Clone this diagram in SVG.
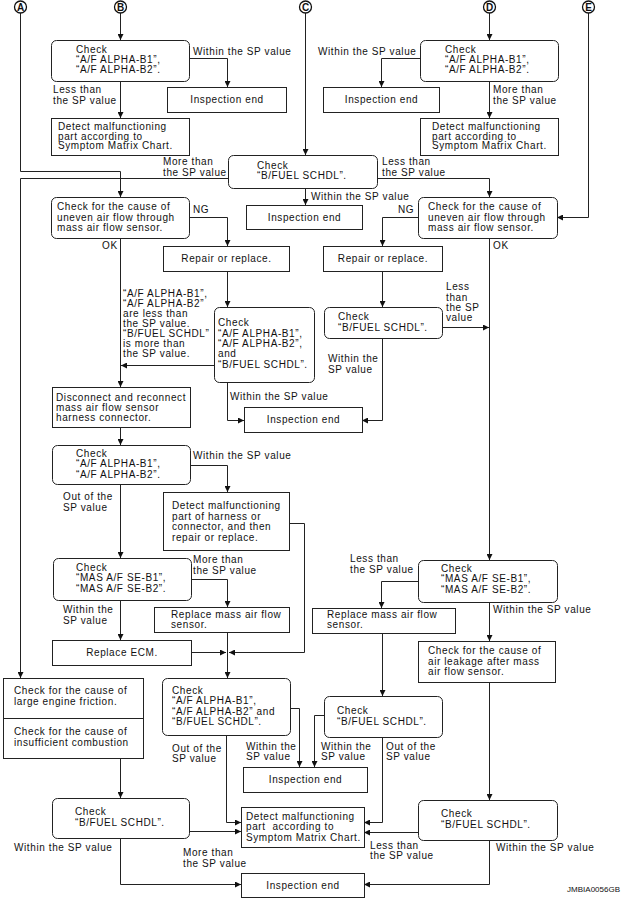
<svg xmlns="http://www.w3.org/2000/svg" width="622" height="903" viewBox="0 0 622 903">
<style>
.b{fill:#fff;stroke:#222;stroke-width:1}
.l{fill:none;stroke:#222;stroke-width:1}
.t{font-family:"Liberation Sans",Arial,sans-serif;font-size:10px;fill:#111;letter-spacing:0.6px}
.c{text-anchor:middle}
.k{fill:#fff;stroke:#111;stroke-width:1.3}
.kt{font-family:"Liberation Sans",Arial,sans-serif;font-size:10px;font-weight:bold;fill:#111;text-anchor:middle}
.id{font-family:"Liberation Sans",Arial,sans-serif;font-size:8px;fill:#111}
</style>
<defs>
<marker id="ar" viewBox="0 0 6 6" refX="6" refY="3" markerWidth="6" markerHeight="6" orient="auto" markerUnits="userSpaceOnUse"><path d="M0,0L6,3L0,6z" fill="#111"/></marker>
</defs>

<g id="connectors" class="l" marker-end="url(#ar)">
<path d="M20.5,13 V171.5 H120.5 V197"/>
<path d="M120.5,13 V40"/>
<path d="M189,58.5 H227.5 V87"/>
<path d="M120.5,81 V118"/>
<path d="M305.5,13 V155"/>
<path d="M489.5,13 V40"/>
<path d="M420,58.5 H381.5 V87"/>
<path d="M489.5,81 V118"/>
<path d="M228,178.5 H20.5 V678"/>
<path d="M377,178.5 H489.5 V197"/>
<path d="M305.5,188 V205"/>
<path d="M588.5,13 V217.5 H557"/>
<path d="M189,217.5 H227.5 V246"/>
<path d="M418,217.5 H382.5 V246"/>
<path d="M120.5,238 V387"/>
<path d="M227.5,271 V307"/>
<path d="M214,365.5 H121"/>
<path d="M227.5,382 V420.5 H244"/>
<path d="M382.5,271 V307"/>
<path d="M382.5,338 V420.5 H362"/>
<path d="M442,327.5 H489"/>
<path d="M489.5,238 V560"/>
<path d="M120.5,427 V445"/>
<path d="M190,465.5 H227.5 V492"/>
<path d="M120.5,484 V558"/>
<path d="M289,523.5 H304.5 V652.5 H229"/>
<path d="M191,579.5 H227.5 V607"/>
<path d="M120.5,600 V640"/>
<path d="M191,652.5 H226"/>
<path d="M227.5,632 V678"/>
<path d="M418,581.5 H381.5 V608"/>
<path d="M489.5,602 V641"/>
<path d="M382.5,633 V696"/>
<path d="M489.5,682 V800"/>
<path d="M120.5,758 V798"/>
<path d="M226.5,735 V822.5 H241"/>
<path d="M290,708.5 H299.5 V767"/>
<path d="M324,715.5 H314.5 V767"/>
<path d="M382.5,737 V822.5 H364"/>
<path d="M189,831.5 H241"/>
<path d="M418,832.5 H364"/>
<path d="M120.5,838 V884.5 H241"/>
<path d="M489.5,840 V884.5 H364"/>
</g>

<g id="labels" class="t">
<text x="193" y="55">Within the SP value</text>
<text x="53" y="93">Less than</text><text x="53" y="104">the SP value</text>
<text x="318" y="55">Within the SP value</text>
<text x="493" y="93">More than</text><text x="493" y="104">the SP value</text>
<text x="163" y="165">More than</text><text x="163" y="176">the SP value</text>
<text x="382" y="165">Less than</text><text x="382" y="176">the SP value</text>
<text x="311" y="200">Within the SP value</text>
<text x="193" y="213">NG</text>
<text x="398" y="213">NG</text>
<text x="102" y="249">OK</text>
<text x="493" y="249">OK</text>
<text x="123" y="297">“A/F ALPHA-B1”,</text>
<text x="123" y="307">“A/F ALPHA-B2”</text>
<text x="123" y="317">are less than</text>
<text x="123" y="327">the SP value.</text>
<text x="123" y="337">“B/FUEL SCHDL”</text>
<text x="123" y="347">is more than</text>
<text x="123" y="357">the SP value.</text>
<text x="230" y="400">Within the SP value</text>
<text x="446" y="290">Less</text><text x="446" y="300.5">than</text><text x="446" y="311">the SP</text><text x="446" y="321">value</text>
<text x="328" y="362">Within the</text><text x="328" y="373">SP value</text>
<text x="193" y="459">Within the SP value</text>
<text x="63" y="500">Out of the</text><text x="63" y="511">SP value</text>
<text x="193" y="563">More than</text><text x="193" y="574">the SP value</text>
<text x="63" y="613">Within the</text><text x="63" y="624">SP value</text>
<text x="350" y="562">Less than</text><text x="350" y="573">the SP value</text>
<text x="493" y="613">Within the SP value</text>
<text x="172" y="752">Out of the</text><text x="172" y="762">SP value</text>
<text x="246" y="750">Within the</text><text x="246" y="760">SP value</text>
<text x="321" y="750">Within the</text><text x="321" y="760">SP value</text>
<text x="386" y="750">Out of the</text><text x="386" y="760">SP value</text>
<text x="14" y="851">Within the SP value</text>
<text x="183" y="856">More than</text><text x="183" y="867">the SP value</text>
<text x="370" y="849">Less than</text><text x="370" y="859">the SP value</text>
<text x="496" y="851">Within the SP value</text>
</g>

<g id="start-A"><circle class="k" cx="20.5" cy="7" r="6"/><text class="kt" x="20.5" y="10.5">A</text></g>
<g id="start-B"><circle class="k" cx="120.5" cy="7" r="6"/><text class="kt" x="120.5" y="10.5">B</text></g>
<g id="start-C"><circle class="k" cx="305.5" cy="7" r="6"/><text class="kt" x="305.5" y="10.5">C</text></g>
<g id="start-D"><circle class="k" cx="489.5" cy="7" r="6"/><text class="kt" x="489.5" y="10.5">D</text></g>
<g id="start-E"><circle class="k" cx="588.5" cy="7" r="6"/><text class="kt" x="588.5" y="10.5">E</text></g>

<g id="b-check"><rect class="b" x="51.5" y="40.5" width="138" height="41" rx="5"/>
<text class="t" x="76" y="53">Check</text><text class="t" x="76" y="63">“A/F ALPHA-B1”,</text><text class="t" x="76" y="73">“A/F ALPHA-B2”.</text></g>
<g id="b-end"><rect class="b" x="167.5" y="87.5" width="119" height="25"/><text class="t c" x="227" y="103">Inspection end</text></g>
<g id="b-detect"><rect class="b" x="51.5" y="118.5" width="138" height="37"/>
<text class="t" x="58" y="130">Detect malfunctioning</text><text class="t" x="58" y="139.5">part according to</text><text class="t" x="58" y="149">Symptom Matrix Chart.</text></g>

<g id="d-check"><rect class="b" x="420.5" y="40.5" width="138" height="41" rx="5"/>
<text class="t" x="445" y="53">Check</text><text class="t" x="445" y="63">“A/F ALPHA-B1”,</text><text class="t" x="445" y="73">“A/F ALPHA-B2”.</text></g>
<g id="d-end"><rect class="b" x="323.5" y="87.5" width="116" height="25"/><text class="t c" x="381.5" y="103">Inspection end</text></g>
<g id="d-detect"><rect class="b" x="420.5" y="118.5" width="138" height="37"/>
<text class="t" x="432" y="130">Detect malfunctioning</text><text class="t" x="432" y="139.5">part according to</text><text class="t" x="432" y="149">Symptom Matrix Chart.</text></g>

<g id="c-check"><rect class="b" x="228.5" y="155.5" width="149" height="33" rx="5"/>
<text class="t" x="257" y="169">Check</text><text class="t" x="257" y="179">“B/FUEL SCHDL”.</text></g>
<g id="c-end"><rect class="b" x="246.5" y="205.5" width="116" height="24"/><text class="t c" x="304.5" y="221">Inspection end</text></g>

<g id="l-uneven"><rect class="b" x="51.5" y="197.5" width="138" height="41" rx="5"/>
<text class="t" x="57" y="210">Check for the cause of</text><text class="t" x="57" y="220.5">uneven air flow through</text><text class="t" x="57" y="231">mass air flow sensor.</text></g>
<g id="r-uneven"><rect class="b" x="418.5" y="197.5" width="139" height="41" rx="5"/>
<text class="t" x="428" y="210">Check for the cause of</text><text class="t" x="428" y="220.5">uneven air flow through</text><text class="t" x="428" y="231">mass air flow sensor.</text></g>

<g id="l-repair"><rect class="b" x="163.5" y="246.5" width="126" height="25"/><text class="t c" x="226.5" y="262">Repair or replace.</text></g>
<g id="r-repair"><rect class="b" x="323.5" y="246.5" width="119" height="25"/><text class="t c" x="383" y="262">Repair or replace.</text></g>

<g id="center-check"><rect class="b" x="214.5" y="307.5" width="100" height="75" rx="5"/>
<text class="t" x="218" y="326">Check</text><text class="t" x="218" y="336.5">“A/F ALPHA-B1”,</text><text class="t" x="218" y="347">“A/F ALPHA-B2”,</text><text class="t" x="218" y="357">and</text><text class="t" x="218" y="367.5">“B/FUEL SCHDL”.</text></g>
<g id="r-bfuel"><rect class="b" x="324.5" y="307.5" width="118" height="31" rx="5"/>
<text class="t" x="338" y="320">Check</text><text class="t" x="338" y="331">“B/FUEL SCHDL”.</text></g>
<g id="mid-end"><rect class="b" x="244.5" y="407.5" width="118" height="25"/><text class="t c" x="303.5" y="423">Inspection end</text></g>

<g id="disconnect"><rect class="b" x="52.5" y="387.5" width="138" height="40"/>
<text class="t" x="56" y="401">Disconnect and reconnect</text><text class="t" x="56" y="411">mass air flow sensor</text><text class="t" x="56" y="421">harness connector.</text></g>
<g id="check2"><rect class="b" x="52.5" y="445.5" width="138" height="39" rx="5"/>
<text class="t" x="76" y="457">Check</text><text class="t" x="76" y="467">“A/F ALPHA-B1”,</text><text class="t" x="76" y="477.5">“A/F ALPHA-B2”.</text></g>
<g id="harness"><rect class="b" x="163.5" y="492.5" width="126" height="58"/>
<text class="t" x="172" y="509">Detect malfunctioning</text><text class="t" x="172" y="519.5">part of harness or</text><text class="t" x="172" y="530">connector, and then</text><text class="t" x="172" y="541">repair or replace.</text></g>
<g id="l-mas"><rect class="b" x="53.5" y="558.5" width="138" height="42" rx="5"/>
<text class="t" x="76" y="570.5">Check</text><text class="t" x="76" y="581">“MAS A/F SE-B1”,</text><text class="t" x="76" y="591.5">“MAS A/F SE-B2”.</text></g>
<g id="l-maf"><rect class="b" x="154.5" y="607.5" width="135" height="25"/>
<text class="t" x="171" y="618">Replace mass air flow</text><text class="t" x="171" y="628">sensor.</text></g>
<g id="ecm"><rect class="b" x="52.5" y="640.5" width="139" height="25"/><text class="t c" x="122" y="656">Replace ECM.</text></g>

<g id="r-mas"><rect class="b" x="418.5" y="560.5" width="139" height="42" rx="5"/>
<text class="t" x="441" y="572">Check</text><text class="t" x="441" y="582">“MAS A/F SE-B1”,</text><text class="t" x="441" y="592.5">“MAS A/F SE-B2”.</text></g>
<g id="r-maf"><rect class="b" x="312.5" y="608.5" width="143" height="25"/>
<text class="t" x="327" y="618">Replace mass air flow</text><text class="t" x="327" y="628">sensor.</text></g>
<g id="leak"><rect class="b" x="418.5" y="641.5" width="137" height="41"/>
<text class="t" x="428" y="654">Check for the cause of</text><text class="t" x="428" y="664.5">air leakage after mass</text><text class="t" x="428" y="675">air flow sensor.</text></g>

<g id="friction"><rect class="b" x="3.5" y="678.5" width="140" height="80"/><path class="l" d="M3.5,718.5 H143.5"/>
<text class="t" x="14" y="694">Check for the cause of</text><text class="t" x="14" y="704.5">large engine friction.</text>
<text class="t" x="14" y="735">Check for the cause of</text><text class="t" x="14" y="746">insufficient combustion</text></g>
<g id="center-check2"><rect class="b" x="162.5" y="678.5" width="128" height="57" rx="5"/>
<text class="t" x="172" y="694">Check</text><text class="t" x="172" y="704">“A/F ALPHA-B1”,</text><text class="t" x="172" y="714.5">“A/F ALPHA-B2” and</text><text class="t" x="172" y="725">“B/FUEL SCHDL”.</text></g>
<g id="r-bfuel2"><rect class="b" x="324.5" y="696.5" width="118" height="41" rx="5"/>
<text class="t" x="337" y="714">Check</text><text class="t" x="337" y="725">“B/FUEL SCHDL”.</text></g>
<g id="low-end"><rect class="b" x="243.5" y="767.5" width="124" height="25"/><text class="t c" x="305.5" y="783">Inspection end</text></g>

<g id="bl-bfuel"><rect class="b" x="52.5" y="798.5" width="137" height="40" rx="5"/>
<text class="t" x="75" y="815">Check</text><text class="t" x="75" y="825.5">“B/FUEL SCHDL”.</text></g>
<g id="detect2"><rect class="b" x="241.5" y="807.5" width="123" height="40"/>
<text class="t" x="246" y="819.5">Detect malfunctioning</text><text class="t" x="246" y="830">part&#160; according to</text><text class="t" x="246" y="840.5">Symptom Matrix Chart.</text></g>
<g id="br-bfuel"><rect class="b" x="418.5" y="800.5" width="139" height="40" rx="5"/>
<text class="t" x="441" y="817">Check</text><text class="t" x="441" y="827.5">“B/FUEL SCHDL”.</text></g>
<g id="bottom-end"><rect class="b" x="241.5" y="873.5" width="123" height="24"/><text class="t c" x="303" y="889">Inspection end</text></g>

<text class="id" x="620" y="892" text-anchor="end">JMBIA0056GB</text>
</svg>
